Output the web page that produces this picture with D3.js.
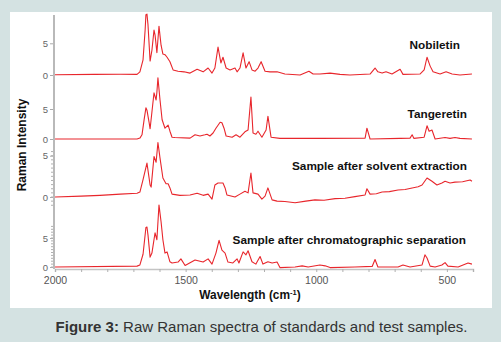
<!DOCTYPE html>
<html><head><meta charset="utf-8">
<script src="https://cdn.jsdelivr.net/npm/d3@7"></script>
<style>
html,body{margin:0;padding:0;background:#d4e2e2;}
svg{display:block;font-family:Arial,"Liberation Sans",sans-serif;}
</style></head>
<body>
<svg id="chart" width="501" height="342"></svg>
<script>
// ---- data (wavenumber cm-1, Raman intensity) ----
const seriesNames = ["Nobiletin","Tangeretin","Sample after solvent extraction","Sample after chromatographic separation"];
const xTickLabels = [2000,1500,1000,500];
const yTickLabels = [0,5];

const nobiletin = [[2000,0.05],[1850,0.1],[1750,0.12],[1686,0.1],[1675,0.5],[1663,2.4],[1655,7.1],[1652,9.5],[1648,9.6],[1644,7.9],[1636,2.2],[1629,3.9],[1621,7.1],[1617,6.3],[1610,3.5],[1602,7.7],[1594,4.7],[1587,3.3],[1579,3.2],[1571,2.8],[1560,2.1],[1548,0.8],[1529,0.6],[1506,0.5],[1483,0.3],[1456,0.9],[1433,0.5],[1414,1.1],[1399,0.3],[1388,1.1],[1376,4.4],[1365,1.9],[1357,2.8],[1345,1.1],[1330,0.8],[1311,1.1],[1303,0.5],[1292,1.1],[1280,3.5],[1269,1.1],[1257,2.1],[1246,0.8],[1234,0.6],[1223,1.1],[1211,2.1],[1196,0.6],[1177,0.5],[1150,0.5],[1120,0.15],[1062,0],[1028,0.6],[1012,0.15],[986,0.15],[947,0.3],[909,0.1],[871,0],[794,0.15],[775,1.1],[764,0.5],[748,0.3],[733,0.5],[710,0.15],[679,0.9],[668,0.1],[603,0.15],[587,0.8],[576,2.8],[564,1.4],[553,0.5],[526,0.15],[503,0.5],[480,0.15],[450,0],[404,0.15]];

const tangeretin = [[2000,0],[1686,0],[1675,0.15],[1667,0.7],[1659,3.2],[1652,5.2],[1648,4.8],[1640,2.8],[1636,1.7],[1629,4.5],[1621,7.7],[1613,6.5],[1610,7.8],[1606,10.2],[1598,6.5],[1590,3.2],[1579,1.8],[1567,2.3],[1560,1.3],[1552,0.3],[1541,0.25],[1483,0.15],[1464,0.7],[1445,0.5],[1426,0.7],[1418,0.8],[1407,0.5],[1395,1.0],[1384,1.8],[1368,2.8],[1361,2.7],[1353,1.8],[1345,0.5],[1322,0.3],[1307,0.7],[1292,0.3],[1273,1.2],[1261,1.5],[1250,7.0],[1242,1.0],[1231,0.8],[1223,1.3],[1208,0.3],[1192,1.5],[1185,3.8],[1173,0.3],[1139,0.1],[986,0.1],[813,0.15],[806,1.8],[794,0],[679,0.1],[641,0.15],[633,0.7],[626,0.1],[587,0.3],[576,2.2],[568,1.3],[557,1.5],[545,0],[507,0.25],[488,0.1],[469,0.25],[450,0.1],[404,0]];

const solventSample = [[2000,0],[1900,0.1],[1828,0.2],[1750,0.35],[1686,0.45],[1675,0.6],[1663,2.1],[1648,4.1],[1636,1.45],[1632,1.2],[1621,4.9],[1613,4.2],[1606,6.6],[1598,4.7],[1587,2.3],[1575,1.6],[1567,1.6],[1560,1.1],[1552,0.35],[1522,0.2],[1483,0.25],[1456,0.45],[1433,0.2],[1414,0.35],[1399,-0.25],[1388,1.45],[1376,1.7],[1357,1.7],[1349,1.1],[1342,0.25],[1311,0],[1292,0.35],[1273,0.7],[1261,0.5],[1250,2.9],[1242,0.5],[1223,0.35],[1208,-0.25],[1196,0.1],[1185,1.1],[1169,-0.35],[1150,-0.5],[1120,-0.55],[1081,-0.7],[1040,-0.5],[1005,-0.35],[970,-0.4],[928,-0.2],[890,-0.15],[852,0.05],[813,0.25],[806,1.0],[794,0.35],[770,0.4],[748,0.6],[720,0.65],[687,0.85],[660,0.9],[633,1.1],[610,1.25],[595,1.45],[576,2.3],[557,1.9],[538,1.45],[519,1.7],[507,1.9],[488,1.7],[469,1.8],[440,1.85],[411,2.05],[404,1.9]];

const chromSample = [[2000,0],[1686,0.15],[1675,0.35],[1663,2.2],[1652,6.8],[1648,6.9],[1644,5.5],[1636,1.7],[1629,2.4],[1617,5.9],[1610,4.7],[1602,10.7],[1594,7.8],[1587,4.7],[1579,2.4],[1571,2.6],[1560,0.9],[1552,0.7],[1529,0.85],[1518,1.4],[1502,0.25],[1464,1.2],[1433,0.85],[1414,1.4],[1399,0.5],[1384,2.4],[1372,4.6],[1361,2.9],[1349,2.4],[1338,0.85],[1319,0.7],[1303,1.4],[1296,0.7],[1280,2.6],[1269,2.1],[1261,2.8],[1246,0.9],[1231,0.5],[1215,1.8],[1204,0.5],[1185,0.9],[1169,0.7],[1150,0.85],[1139,-0.1],[1081,0],[1054,0.2],[1031,0],[986,0.35],[966,0.2],[947,-0.1],[852,0],[786,0.1],[775,1.3],[764,0],[687,0],[668,0.35],[641,0],[595,0.35],[584,2.1],[576,1.55],[564,0.15],[545,0],[519,0.35],[507,0.75],[496,0.15],[457,0],[419,0.7],[404,0.5]];

const spectra = [nobiletin, tangeretin, solventSample, chromSample];

// ---- layout ----
const svg = d3.select("#chart");
svg.append("rect").attr("x",10).attr("y",12).attr("width",482).attr("height",296).attr("fill","#ffffff");

const x = d3.scaleLinear().domain([2000,400]).range([55,473]);
// per-panel y scales: [pixel of 0, pixel of 5]
const panelRanges = [[75,43.3],[139,109],[197,155.7],[267,238]];
const yScales = panelRanges.map(r => d3.scaleLinear().domain([0,5]).range(r));

// y axis line
svg.append("line").attr("x1",54).attr("x2",54).attr("y1",15).attr("y2",269)
  .attr("stroke","#b9b9b9").attr("stroke-width",2);

// y ticks per panel
yScales.forEach((ys,i)=>{
  const g = svg.append("g").attr("transform","translate(53,0)")
    .call(d3.axisLeft(ys).tickValues(yTickLabels).tickSize(3).tickFormat(d3.format("d")));
  g.select(".domain").remove();
  g.selectAll("line").attr("stroke","#aaaaaa");
  g.selectAll("text").attr("fill","#666").attr("font-size",9.5).attr("x",-5).attr("font-family","Arial, Liberation Sans, sans-serif");
});
// minor ticks on lower part of y axis
const minor = svg.append("g");
[2,3].forEach(i=>{
  const ys = yScales[i];
  d3.range(-1,7.5,0.5).forEach(v=>{
    const yy = ys(v);
    if (yy>150 && yy<269) minor.append("line").attr("x1",51).attr("x2",53).attr("y1",yy).attr("y2",yy)
      .attr("stroke","#b0b0b0").attr("stroke-width",1);
  });
});

// x axis
const xg = svg.append("g").attr("transform","translate(0,269)")
  .call(d3.axisBottom(x).tickValues(d3.range(2000,399,-100)).tickSize(3).tickFormat(d => xTickLabels.includes(d) ? d : ""));
xg.select(".domain").attr("stroke","#c4c4c4").attr("stroke-width",1.5);
xg.selectAll("line").attr("stroke","#b0b0b0");
xg.selectAll("text").attr("fill","#555").attr("font-size",10.5).attr("y",8).attr("font-family","Arial, Liberation Sans, sans-serif");

// spectra
const line = d3.line();
spectra.forEach((s,i)=>{
  const ys = yScales[i];
  svg.append("path").attr("d", line(s.map(d=>[x(d[0]), ys(d[1])])))
    .attr("fill","none").attr("stroke","#e8262c").attr("stroke-width",1.1).attr("stroke-linejoin","round");
});

// series labels
const labelPos = [[460,49],[467,118],[467,170],[466,244]];
seriesNames.forEach((n,i)=>{
  svg.append("text").attr("x",labelPos[i][0]).attr("y",labelPos[i][1])
    .attr("text-anchor","end").attr("font-size",11.8).attr("font-weight","bold").attr("fill","#111").text(n);
});

// axis titles
svg.append("text").attr("transform","translate(26,145) rotate(-90)").attr("text-anchor","middle")
  .attr("font-size",12).attr("font-weight","bold").attr("fill","#111").text("Raman Intensity");
const xt = svg.append("text").attr("x",250).attr("y",299).attr("text-anchor","middle")
  .attr("font-size",11.9).attr("font-weight","bold").attr("fill","#111");
xt.append("tspan").text("Wavelength (cm");
xt.append("tspan").attr("dy",-4).attr("font-size",7.5).text("-1");
xt.append("tspan").attr("dy",4).text(")");

// caption
const cap = svg.append("text").attr("x",261.5).attr("y",332).attr("text-anchor","middle")
  .attr("font-size",15).attr("fill","#333");
cap.append("tspan").attr("font-weight","bold").text("Figure 3:");
cap.append("tspan").text(" Raw Raman spectra of standards and test samples.");
</script>
</body></html>
